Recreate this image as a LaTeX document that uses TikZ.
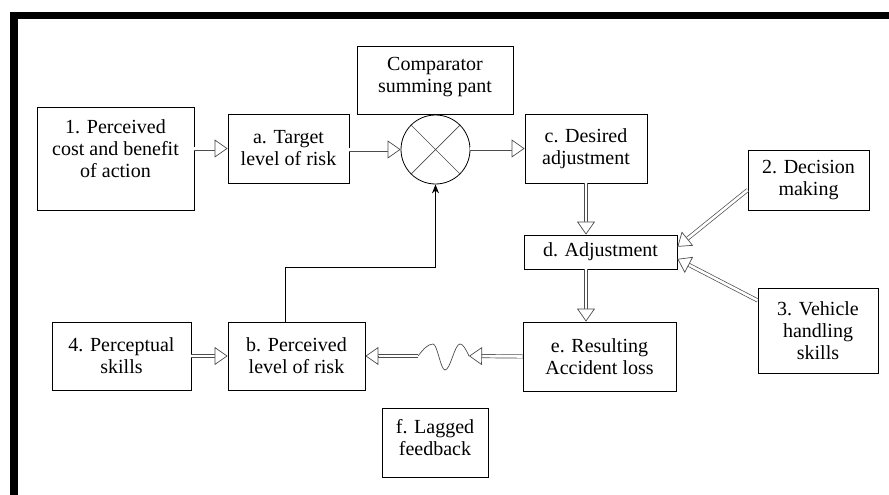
\documentclass[tikz,border=0pt]{standalone}
\usepackage{fontspec}
\setmainfont{Liberation Serif}
\usetikzlibrary{arrows.meta,calc}
% double shaft with an open head
\newcommand\dblarrow[2]{
    \draw[dbl] #1 -- #2;
    \draw[dbltip] ($#2!13pt!#1$) -- #2;
}

\begin{document}
\begin{tikzpicture}[x=1pt,y=-1pt,
    box/.style={draw, line width=.8pt, inner sep=0pt, align=center, font=\fontsize{20}{22}\selectfont},
    dbl/.style={draw=black!70, line width=.7pt, double=white, double distance=2.6pt, shorten >=11pt},
    dbltip/.style={draw=black!70, line width=.7pt, -{Triangle[length=13pt,width=18pt,fill=white]}}
]
\useasboundingbox (0,0) rectangle (889,495);
%frame
\fill (10,12) rectangle (889,19);
\fill (10,12) rectangle (18,495);

%boxes
\node[box, minimum width=157, minimum height=103] (cost) at (115.5,158.5) {1. Perceived\\cost and benefit\\of action\\[-2pt]\mbox{}};
\node[box, minimum width=121, minimum height=69] (target) at (288.5,148.5) {a. Target\\level of risk};
\node[box, minimum width=156, minimum height=68] (comp) at (435,80) {Comparator\\summing pant\\[-12pt]\mbox{}};
\node[draw, circle, line width=.8pt, inner sep=0pt, minimum size=69] (sum) at (435.5,149.5) {};
\node[box, minimum width=122, minimum height=69] (desired) at (586,148.5) {c. Desired\\adjustment};
\node[box, minimum width=121, minimum height=60] (decision) at (808.5,180) {2. Decision\\making};
\node[box, minimum width=153, minimum height=34] (adjust) at (600.5,252) {d. Adjustment};
\node[box, minimum width=120, minimum height=85] (handling) at (818,330.5) {3. Vehicle\\handling\\skills};
\node[box, minimum width=153, minimum height=69] (loss) at (599.5,356.5) {e. Resulting\\Accident loss};
\node[box, minimum width=137, minimum height=68] (perceived) at (296.5,356) {b. Perceived\\level of risk};
\node[box, minimum width=139, minimum height=68] (skills) at (121.5,356) {4. Perceptual\\skills};
\node[box, minimum width=106, minimum height=69] (lagged) at (435,442.5) {f. Lagged\\feedback\\[-12pt]\mbox{}};

%cross in the summing point
\draw[black!70, line width=.7pt] (sum.45) -- (sum.225) (sum.135) -- (sum.315);

%arrows
\foreach \s/\t in {cost/target, target/sum, sum/desired, skills/perceived}{
    \dblarrow{(\s.east |- \t.west)}{(\t.west)}
}
\dblarrow{(desired.south)}{(desired.south |- adjust.north)}
\dblarrow{(adjust.south -| desired.south)}{(loss.north -| desired.south)}
\coordinate (decout) at ($(decision.west)!.33!(decision.south west)$);
\coordinate (decin) at ($(adjust.east)!.3!(adjust.north east)$);
\coordinate (hndout) at ($(handling.north west)!.3!(handling.west)$);
\coordinate (hndin) at ($(adjust.east)!.4!(adjust.south east)$);
\dblarrow{(decout)}{(decin)}
\dblarrow{(hndout)}{(hndin)}

%lagged feedback
\coordinate (lagin) at (469,356);
\coordinate (lagout) at (418,356);
\dblarrow{(loss.west)}{(lagin)}
\draw[black!70, line width=.7pt] (lagin) sin (460,344) cos (452.5,357) sin (445,370) cos (439,357) sin (433,344) cos (lagout);
\dblarrow{(lagout)}{(perceived.east)}

%feedback to comparator
\coordinate (bend) at (285,267);
\draw[line width=.8pt, -{Stealth[length=9pt,width=7pt]}] (perceived.north -| bend) -- (bend) -| (sum.south);
\end{tikzpicture}
\end{document}
